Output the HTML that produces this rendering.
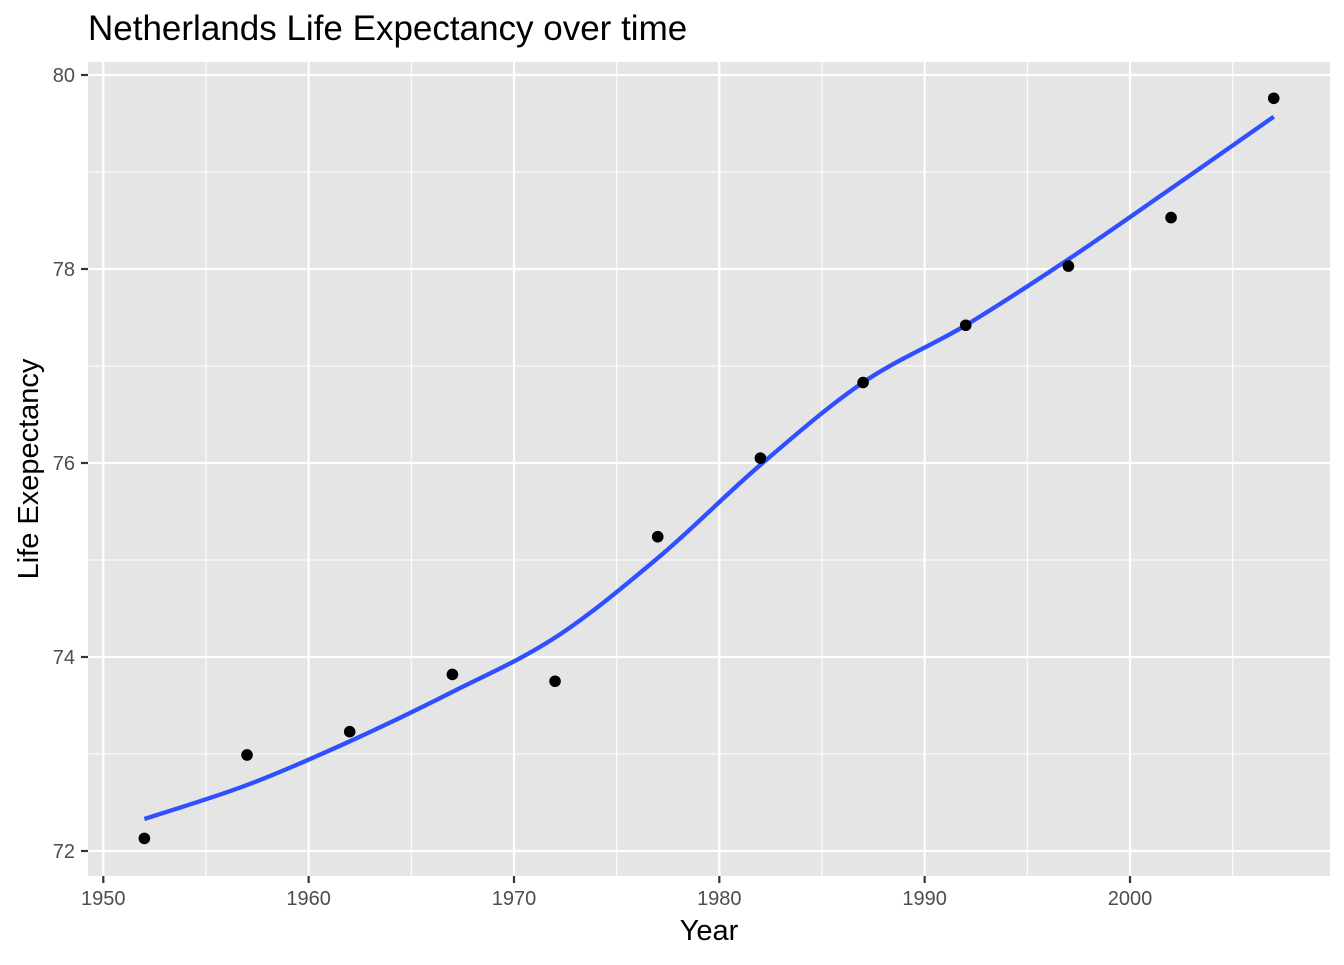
<!DOCTYPE html>
<html><head><meta charset="utf-8"><style>
body{margin:0;background:#fff;font-family:"Liberation Sans",Arial,sans-serif}
svg text{font-family:"Liberation Sans",Arial,sans-serif}
</style></head><body>
<svg id="chart" width="1344" height="960" xmlns="http://www.w3.org/2000/svg">
<text x="88" y="40" font-size="35" fill="#000">Netherlands Life Expectancy over time</text>
<rect x="88" y="62" width="1242" height="814" fill="#e5e5e5"/>
<g id="grid"></g><g id="axes"></g><g id="marks"></g>
<text x="709" y="940" font-size="29" text-anchor="middle" fill="#000">Year</text>
<text transform="translate(38,469) rotate(-90)" font-size="29" text-anchor="middle" fill="#000">Life Exepectancy</text>
</svg>
<script>
const years=[1952,1957,1962,1967,1972,1977,1982,1987,1992,1997,2002,2007];
const lifeExp=[72.13,72.99,73.23,73.82,73.75,75.24,76.05,76.83,77.42,78.03,78.53,79.76];
const smoothYears=[1952,1957,1962,1967,1972,1977,1982,1987,1992,1997,2002,2007];
const smoothVals=[72.33,72.68,73.13,73.64,74.2,75.02,75.98,76.83,77.42,78.1,78.83,79.57];
const xTicks=[1950,1960,1970,1980,1990,2000];
const xMinor=[1955,1965,1975,1985,1995,2005];
const yTicks=[72,74,76,78,80];
const yMinor=[73,75,77,79];
const NS="http://www.w3.org/2000/svg";
const X=v=>103.3+(v-1950)*(1130-103.3)/50;
const Y=v=>851-(v-72)*(851-75)/8;
function mk(t,a,p){const e=document.createElementNS(NS,t);for(const k in a)e.setAttribute(k,a[k]);p.appendChild(e);return e;}
const g=document.getElementById('grid'),ax=document.getElementById('axes'),m=document.getElementById('marks');
xMinor.forEach(v=>{const l=mk('line',{x1:X(v),x2:X(v),y1:62,y2:876,stroke:'#fff','stroke-width':1.1},g);

});
yMinor.forEach(v=>{const l=mk('line',{x1:88,x2:1330,y1:Y(v),y2:Y(v),stroke:'#fff','stroke-width':1.1},g);

});
xTicks.forEach(v=>{const l=mk('line',{x1:X(v),x2:X(v),y1:62,y2:876,stroke:'#fff','stroke-width':2.2},g);


const t=mk('line',{x1:X(v),x2:X(v),y1:876,y2:883,stroke:'#333','stroke-width':2.2},ax);


const tx=mk('text',{x:X(v),y:905,'font-size':20,'text-anchor':'middle',fill:'#4d4d4d'},ax);tx.textContent=v;

});
yTicks.forEach(v=>{const l=mk('line',{x1:88,x2:1330,y1:Y(v),y2:Y(v),stroke:'#fff','stroke-width':2.2},g);


const t=mk('line',{x1:81,x2:88,y1:Y(v),y2:Y(v),stroke:'#333','stroke-width':2.2},ax);


const tx=mk('text',{x:75,y:Y(v)+7,'font-size':20,'text-anchor':'end',fill:'#4d4d4d'},ax);tx.textContent=v;

});
const P=smoothYears.map((y,i)=>[X(y),Y(smoothVals[i])]);
let d='M'+P[0][0]+','+P[0][1];
for(let i=0;i<P.length-1;i++){const p0=P[Math.max(0,i-1)],p1=P[i],p2=P[i+1],p3=P[Math.min(P.length-1,i+2)];
d+=' C'+(p1[0]+(p2[0]-p0[0])/6)+','+(p1[1]+(p2[1]-p0[1])/6)+' '+(p2[0]-(p3[0]-p1[0])/6)+','+(p2[1]-(p3[1]-p1[1])/6)+' '+p2[0]+','+p2[1];}
const sl=mk('path',{d:d,fill:'none',stroke:'#3050ff','stroke-width':4.3},m);


years.forEach((y,i)=>{const c=mk('circle',{cx:X(y),cy:Y(lifeExp[i]),r:5.8,fill:'#000'},m);

});
</script>
</body></html>
